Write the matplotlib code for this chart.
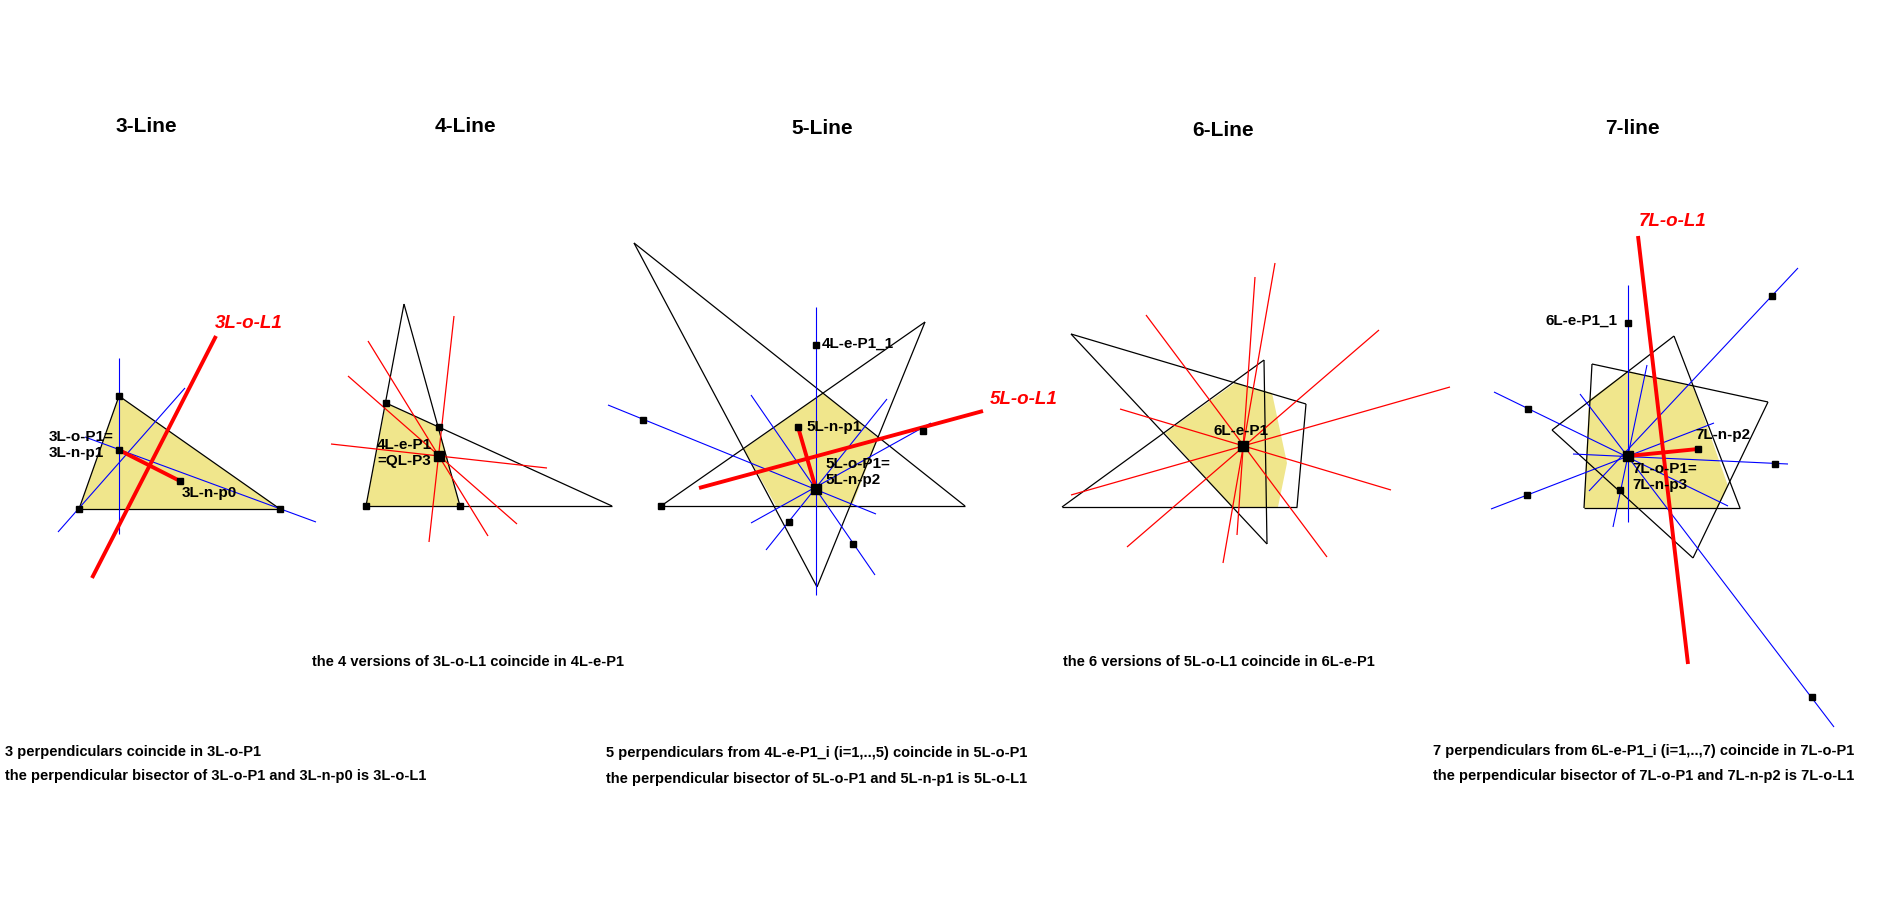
import matplotlib
matplotlib.use("Agg")
import matplotlib.pyplot as plt

# pixel-space geometry (x, y with y downward)
YELLOW = "#f0e68c"

titles = [("3-Line", 146, 126), ("4-Line", 465, 126), ("5-Line", 822, 128),
          ("6-Line", 1223, 130), ("7-line", 1632, 128)]

# panel 3L
tri3 = [(119, 396), (79, 509), (280, 509)]
blue3 = [((119, 358), (119, 534)), ((58, 532), (185, 388)), ((85, 437), (316, 522))]
red3_thick = [((92, 578), (216, 336)), ((119, 450), (180, 481))]
pts3 = [(119, 396), (79, 509), (280, 509), (119, 450), (180, 481)]

# panel 4L
black4 = [((404, 304), (366, 506)), ((404, 304), (460, 506)), ((366, 506), (612, 506)),
          ((386, 403), (612, 506))]
fill4 = [(386, 403), (439, 427), (460, 506), (366, 506)]
red4 = [((368, 341), (488, 536)), ((348, 376), (517, 524)), ((331, 444), (547, 468)),
        ((454, 316), (429, 542))]
pts4 = [(386, 403), (439, 427), (460, 506), (366, 506)]
center4 = (439, 456)

# panel 5L
black5 = [((634, 243), (817, 587)), ((634, 243), (965, 506)), ((925, 322), (661, 506)),
          ((925, 322), (817, 587)), ((661, 506), (965, 506))]
fill5 = [(823, 393), (878, 438), (852, 506), (776, 506), (744, 449)]
blue5 = [((816, 307), (816, 595)), ((608, 405), (876, 514)), ((751, 395), (875, 575)),
         ((766, 550), (887, 399)), ((751, 523), (931, 423))]
red5_thick = [((699, 488), (983, 411)), ((816, 489), (798, 427))]
pts5 = [(816, 345), (643, 420), (853, 544), (789, 522), (923, 431), (661, 506), (798, 427)]
center5 = (816, 489)

# panel 6L
black6 = [((1071, 334), (1306, 404)), ((1306, 404), (1297, 507)), ((1062, 507), (1297, 507)),
          ((1062, 507), (1264, 360)), ((1264, 360), (1267, 544)), ((1071, 334), (1267, 544))]
fill6 = [(1235, 383), (1272, 393), (1287, 463), (1278, 507), (1232, 507), (1165, 433)]
red6 = [((1146, 315), (1327, 557)), ((1255, 277), (1237, 535)), ((1275, 263), (1223, 563)),
        ((1379, 330), (1127, 547)), ((1450, 387), (1071, 495)), ((1120, 409), (1391, 490))]
center6 = (1243, 446)

# panel 7L
black7 = [((1592, 364), (1768, 402)), ((1768, 402), (1693, 558)), ((1584, 508), (1740, 508)),
          ((1592, 364), (1584, 508)), ((1552, 430), (1674, 336)), ((1674, 336), (1740, 508)),
          ((1552, 430), (1693, 558))]
fill7 = [(1628, 371), (1693, 386), (1728, 486), (1718, 508), (1584, 508), (1589, 400)]
blue7 = [((1628, 285), (1628, 522)), ((1494, 392), (1728, 506)), ((1798, 268), (1589, 491)),
         ((1834, 727), (1580, 394)), ((1491, 509), (1714, 423)), ((1573, 454), (1788, 464)),
         ((1613, 527), (1647, 365))]
red7_thick = [((1638, 236), (1688, 664)), ((1628, 456), (1698, 449))]
pts7 = [(1628, 323), (1528, 409), (1772, 296), (1812, 697), (1527, 495), (1775, 464),
        (1620, 490), (1698, 449)]
center7 = (1628, 456)

labels = [("3L-o-P1=\n3L-n-p1", 49, 430), ("3L-n-p0", 182, 486),
          ("4L-e-P1\n=QL-P3", 377, 438), ("4L-e-P1_1", 822, 337),
          ("5L-n-p1", 806, 420), ("5L-o-P1=\n5L-n-p2", 825, 457),
          ("6L-e-P1", 1214, 424), ("6L-e-P1_1", 1545, 314),
          ("7L-n-p2", 1695, 428), ("7L-o-P1=\n7L-n-p3", 1632, 462)]
red_labels = [("3L-o-L1", 215, 323), ("5L-o-L1", 990, 400), ("7L-o-L1", 1639, 222)]

notes = [("the 4 versions of 3L-o-L1 coincide in 4L-e-P1", 312, 662),
         ("the 6 versions of 5L-o-L1 coincide in 6L-e-P1", 1063, 662),
         ("3 perpendiculars coincide in 3L-o-P1", 5, 752),
         ("the perpendicular bisector of 3L-o-P1 and 3L-n-p0 is 3L-o-L1", 5, 776),
         ("5 perpendiculars from 4L-e-P1_i (i=1,..,5) coincide in 5L-o-P1", 606, 753),
         ("the perpendicular bisector of 5L-o-P1 and 5L-n-p1 is 5L-o-L1", 606, 779),
         ("7 perpendiculars from 6L-e-P1_i (i=1,..,7) coincide in 7L-o-P1", 1433, 751),
         ("the perpendicular bisector of 7L-o-P1 and 7L-n-p2 is 7L-o-L1", 1433, 776)]

fig = plt.figure(figsize=(19.03, 9.14), dpi=100)
ax = fig.add_axes([0, 0, 1, 1])
ax.set_xlim(0, 1903)
ax.set_ylim(914, 0)
ax.axis("off")


def segs(lines, color, lw):
    for (a, b) in lines:
        ax.plot([a[0], b[0]], [a[1], b[1]], color=color, lw=lw, solid_capstyle="butt")


def fill(poly):
    xs, ys = zip(*poly)
    ax.fill(xs, ys, color=YELLOW, lw=0, zorder=0)


def squares(pts, size=4):
    xs, ys = zip(*pts)
    ax.plot(xs, ys, "s", color="black", ms=size, zorder=5)


fill(tri3)
segs([(tri3[i], tri3[(i + 1) % 3]) for i in range(3)], "black", 0.9)
segs(blue3, "blue", 0.8)
segs(red3_thick, "red", 2.8)
squares(pts3)

fill(fill4)
segs(black4, "black", 0.9)
segs(red4, "red", 0.9)
squares(pts4)
squares([center4], 7)

fill(fill5)
segs(black5, "black", 0.9)
segs(blue5, "blue", 0.8)
segs(red5_thick, "red", 2.8)
squares(pts5)
squares([center5], 7)

fill(fill6)
segs(black6, "black", 0.9)
segs(red6, "red", 0.9)
squares([center6], 7)

fill(fill7)
segs(black7, "black", 0.9)
segs(blue7, "blue", 0.8)
segs(red7_thick, "red", 2.8)
squares(pts7)
squares([center7], 7)

for t, x, y in titles:
    ax.text(x, y, t, ha="center", va="center", fontsize=15, fontweight="bold",
            family="Liberation Sans")
for t, x, y in labels:
    ax.text(x, y, t, ha="left", va="top", fontsize=11, fontweight="bold",
            family="Liberation Sans", linespacing=1.2, zorder=6)
for t, x, y in red_labels:
    ax.text(x, y, t, ha="left", va="center", fontsize=13.5, fontweight="bold",
            style="italic", color="red", family="Liberation Sans")
for t, x, y in notes:
    ax.text(x, y, t, ha="left", va="center", fontsize=10.5, fontweight="bold",
            family="Liberation Sans")

fig.savefig("out.png", dpi=100)
